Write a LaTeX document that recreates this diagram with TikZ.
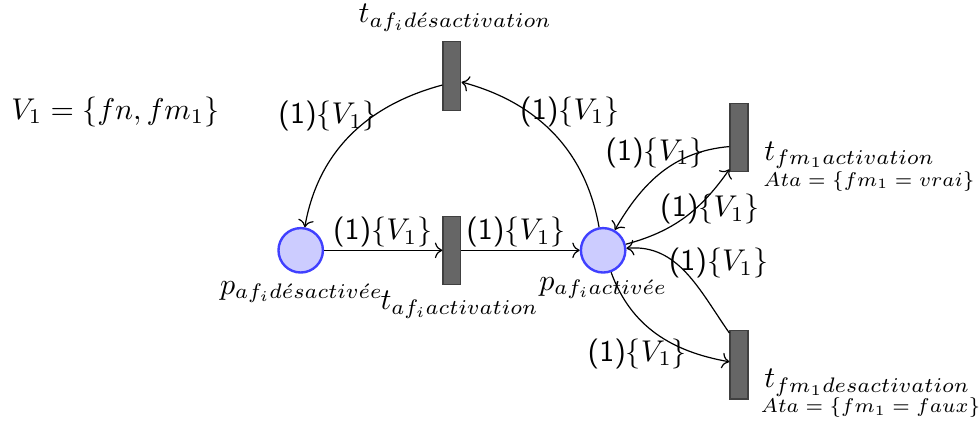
\documentclass[tikz,border=0pt]{standalone}
\usepackage{amsmath,amssymb}
\usetikzlibrary{arrows.meta,positioning}
\newcommand{\wt}{\textsf{(1)}$\{V_1\}$}
\tikzset{
  place/.style={circle,draw=blue!75,fill=blue!20,thick,minimum size=0.52cm,inner sep=0pt},
  transition/.style={rectangle,draw=black!75,fill=black!60,minimum width=0.21cm,minimum height=0.8cm,inner sep=0pt},
  arc/.style={->},
  lbl/.style={inner sep=0pt},
  guard/.style={inner sep=0pt,font=\scriptsize,scale=0.95,transform shape},
}

\begin{document}
\begin{tikzpicture}
    \useasboundingbox (0,0) rectangle (11.46,4.98);
    % --- places and transitions ---
    \node[place] (pdes) at (3.52,2.05) {};
    \node[transition] (tact) at (5.29,2.05) {};
    \node[place] (pact) at (7.06,2.05) {};
    \node[transition] (tdes) at (5.29,4.09) {};
    \node[transition] (tfa) at (8.65,3.37) {};
    \node[transition] (tfd) at (8.65,0.71) {};
    % --- names ---
    \node[lbl] at (1.35,3.67) {$V_1=\{fn,fm_1\}$};
    \node[lbl] at (5.33,4.77) {$t_{af_i d\acute{e}sactivation}$};
    \node[lbl] at (3.53,1.56) {$p_{af_i d\acute{e}sactiv\acute{e}e}$};
    \node[lbl] at (5.38,1.41) {$t_{af_i activation}$};
    \node[lbl] at (7.06,1.61) {$p_{af_i activ\acute{e}e}$};
    \node[lbl,anchor=west] at (8.94,3.16) {$t_{fm_1 activation}$};
    \node[guard,anchor=west] at (8.93,2.86) {$Ata=\{fm_1=vrai\}$};
    \node[lbl,anchor=west] at (8.94,0.50) {$t_{fm_1 desactivation}$};
    \node[guard,anchor=west] at (8.90,0.21) {$Ata=\{fm_1=faux\}$};
    % --- arcs ---
    \draw[arc] (pdes) -- (tact);
    \draw[arc] (tact) -- (pact);
    \draw[arc] ([yshift=-3pt]tdes.west) to[out=195,in=80] (pdes);
    \draw[arc] (pact) to[out=100,in=-15] ([yshift=-2pt]tdes.east);
    \draw[arc] ([yshift=-3pt]tfa.west) to[out=185,in=60] (pact);
    \draw[arc] (pact) to[out=15,in=235] ([yshift=1pt]tfa.south west);
    \draw[arc] ([yshift=-1pt]tfd.north west) to[out=125,in=5] (pact);
    \draw[arc] (pact) to[out=-70,in=170] ([yshift=1pt]tfd.west);
    % --- weights ---
    \node[lbl] at (3.84,3.62) {\wt};
    \node[lbl] at (6.67,3.67) {\wt};
    \node[lbl] at (4.48,2.26) {\wt};
    \node[lbl] at (6.04,2.26) {\wt};
    \node[lbl] at (7.67,3.19) {\wt};
    \node[lbl] at (8.31,2.53) {\wt};
    \node[lbl] at (8.41,1.90) {\wt};
    \node[lbl] at (7.46,0.84) {\wt};
\end{tikzpicture}
\end{document}
